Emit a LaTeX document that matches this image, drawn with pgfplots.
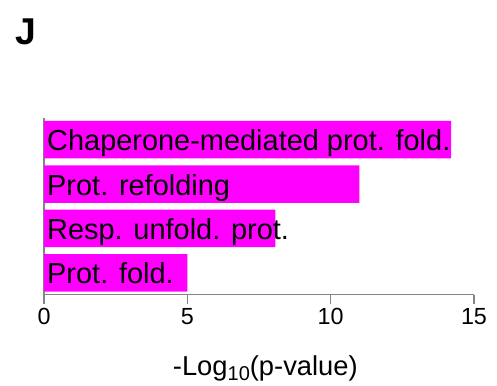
\documentclass[border=0pt]{standalone}
\usepackage{pgfplots}
\pgfplotsset{compat=1.18}
\usepackage{fontspec}
\setmainfont{Liberation Sans}
\definecolor{barmag}{HTML}{FF00FF}
\definecolor{axgray}{HTML}{858585}
\begin{document}
\begin{tikzpicture}[x=1pt,y=1pt]
\useasboundingbox (-33,-67.9) rectangle (339.75,220.9);
\begin{axis}[
  at={(0,0)}, anchor=south west,
  scale only axis, width=322.5pt, height=132.4pt,
  xmin=0, xmax=15, ymin=0.51, ymax=4.49,
  axis x line*=bottom, axis y line*=left,
  axis line style={axgray, line width=1.2pt},
  xtick={0,5,10,15}, ytick=\empty,
  tick align=outside, major tick length=6.75pt,
  x tick style={axgray, line width=1.2pt},
  /pgf/number format/assume math mode=true,
  xticklabel style={font=\fontsize{17.5}{17.5}\selectfont},
  clip=false,
]
\addplot[xbar, bar width=0.845, bar shift=0pt, draw=none, fill=barmag]
  coordinates {(5.0,1) (8.07,2) (11.0,3) (14.2,4)};
\begin{scope}[every node/.style={anchor=base west, inner sep=0pt, xshift=2.2pt, yshift=-8.4pt, font=\fontsize{21.7}{21.7}\selectfont}]
\node at (axis cs:0,4) {Chaperone-mediated prot. fold.};
\node at (axis cs:0,3) {Prot. refolding};
\node at (axis cs:0,2) {Resp. unfold. prot.};
\node at (axis cs:0,1) {Prot. fold.};
\end{scope}
\end{axis}
\node[anchor=base west, inner sep=0pt, font=\fontsize{28}{28}\bfseries] at (-21.75,187.15) {J};
\node[anchor=base, inner sep=0pt, font=\fontsize{20.5}{20.5}\selectfont] at (166,-60.4) {-Log{\fontsize{15}{15}\selectfont\raisebox{-4pt}{10}}(p-value)};
\end{tikzpicture}
\end{document}
